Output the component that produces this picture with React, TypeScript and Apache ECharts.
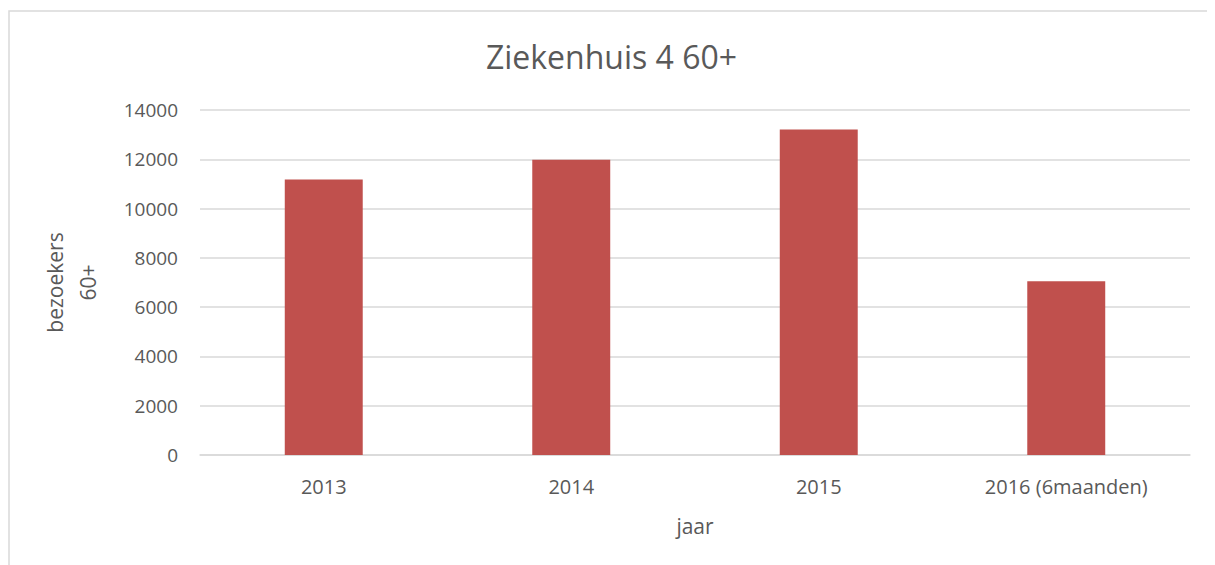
import React, { useEffect, useRef } from "react";
import * as echarts from "echarts";

const categories = ["2013", "2014", "2015", "2016 (6maanden)"];
const values = [11180, 11980, 13210, 7050];
const yTicks = [0, 2000, 4000, 6000, 8000, 10000, 12000, 14000];

const FONT = "'Open Sans', sans-serif";
const TEXT = "#595959";

export default function App() {
  const ref = useRef<HTMLDivElement>(null);
  useEffect(() => {
    if (!ref.current) return;
    document.body.style.overflow = "hidden";
    const chart = echarts.init(ref.current, undefined, { renderer: "svg" });
    chart.setOption({
      animation: false,
      backgroundColor: "#ffffff",
      title: {
        text: "Ziekenhuis 4 60+",
        left: "center",
        top: 27,
        textStyle: { fontFamily: FONT, fontSize: 32, fontWeight: "normal", color: TEXT },
      },
      graphic: [
        {
          type: "rect",
          shape: { x: 1, y: 3, width: 1300, height: 700 },
          style: { fill: "none", stroke: "#D9D9D9", lineWidth: 1.5 },
          silent: true,
        },
      ],
      grid: { left: 192, right: 25, top: 102, bottom: 110 },
      xAxis: {
        type: "category",
        data: categories,
        name: "jaar",
        nameLocation: "middle",
        nameGap: 60,
        nameTextStyle: { fontFamily: FONT, fontSize: 21, color: TEXT },
        axisLine: { show: true, lineStyle: { color: "#D9D9D9", width: 1.5 } },
        axisTick: { show: false },
        axisLabel: { fontFamily: FONT, fontSize: 20, color: TEXT, margin: 21 },
      },
      yAxis: {
        type: "value",
        min: 0,
        max: yTicks[yTicks.length - 1],
        interval: 2000,
        name: "bezoekers\n60+",
        nameLocation: "middle",
        nameRotate: 90,
        nameGap: 96,
        nameTextStyle: { fontFamily: FONT, fontSize: 21, color: TEXT, lineHeight: 33 },
        axisLine: { show: false },
        axisTick: { show: false },
        splitLine: { lineStyle: { color: "#D9D9D9", width: 1.5 } },
        axisLabel: {
          fontFamily: FONT,
          fontSize: 19,
          color: TEXT,
          margin: 22,
          formatter: (v: number) => String(v),
        },
      },
      series: [
        {
          type: "bar",
          data: values,
          barWidth: "31.5%",
          itemStyle: { color: "#C0504D" },
        },
      ],
    });
    return () => chart.dispose();
  }, []);
  return <div ref={ref} style={{ width: 1207, height: 557, overflow: "hidden" }} />;
}
